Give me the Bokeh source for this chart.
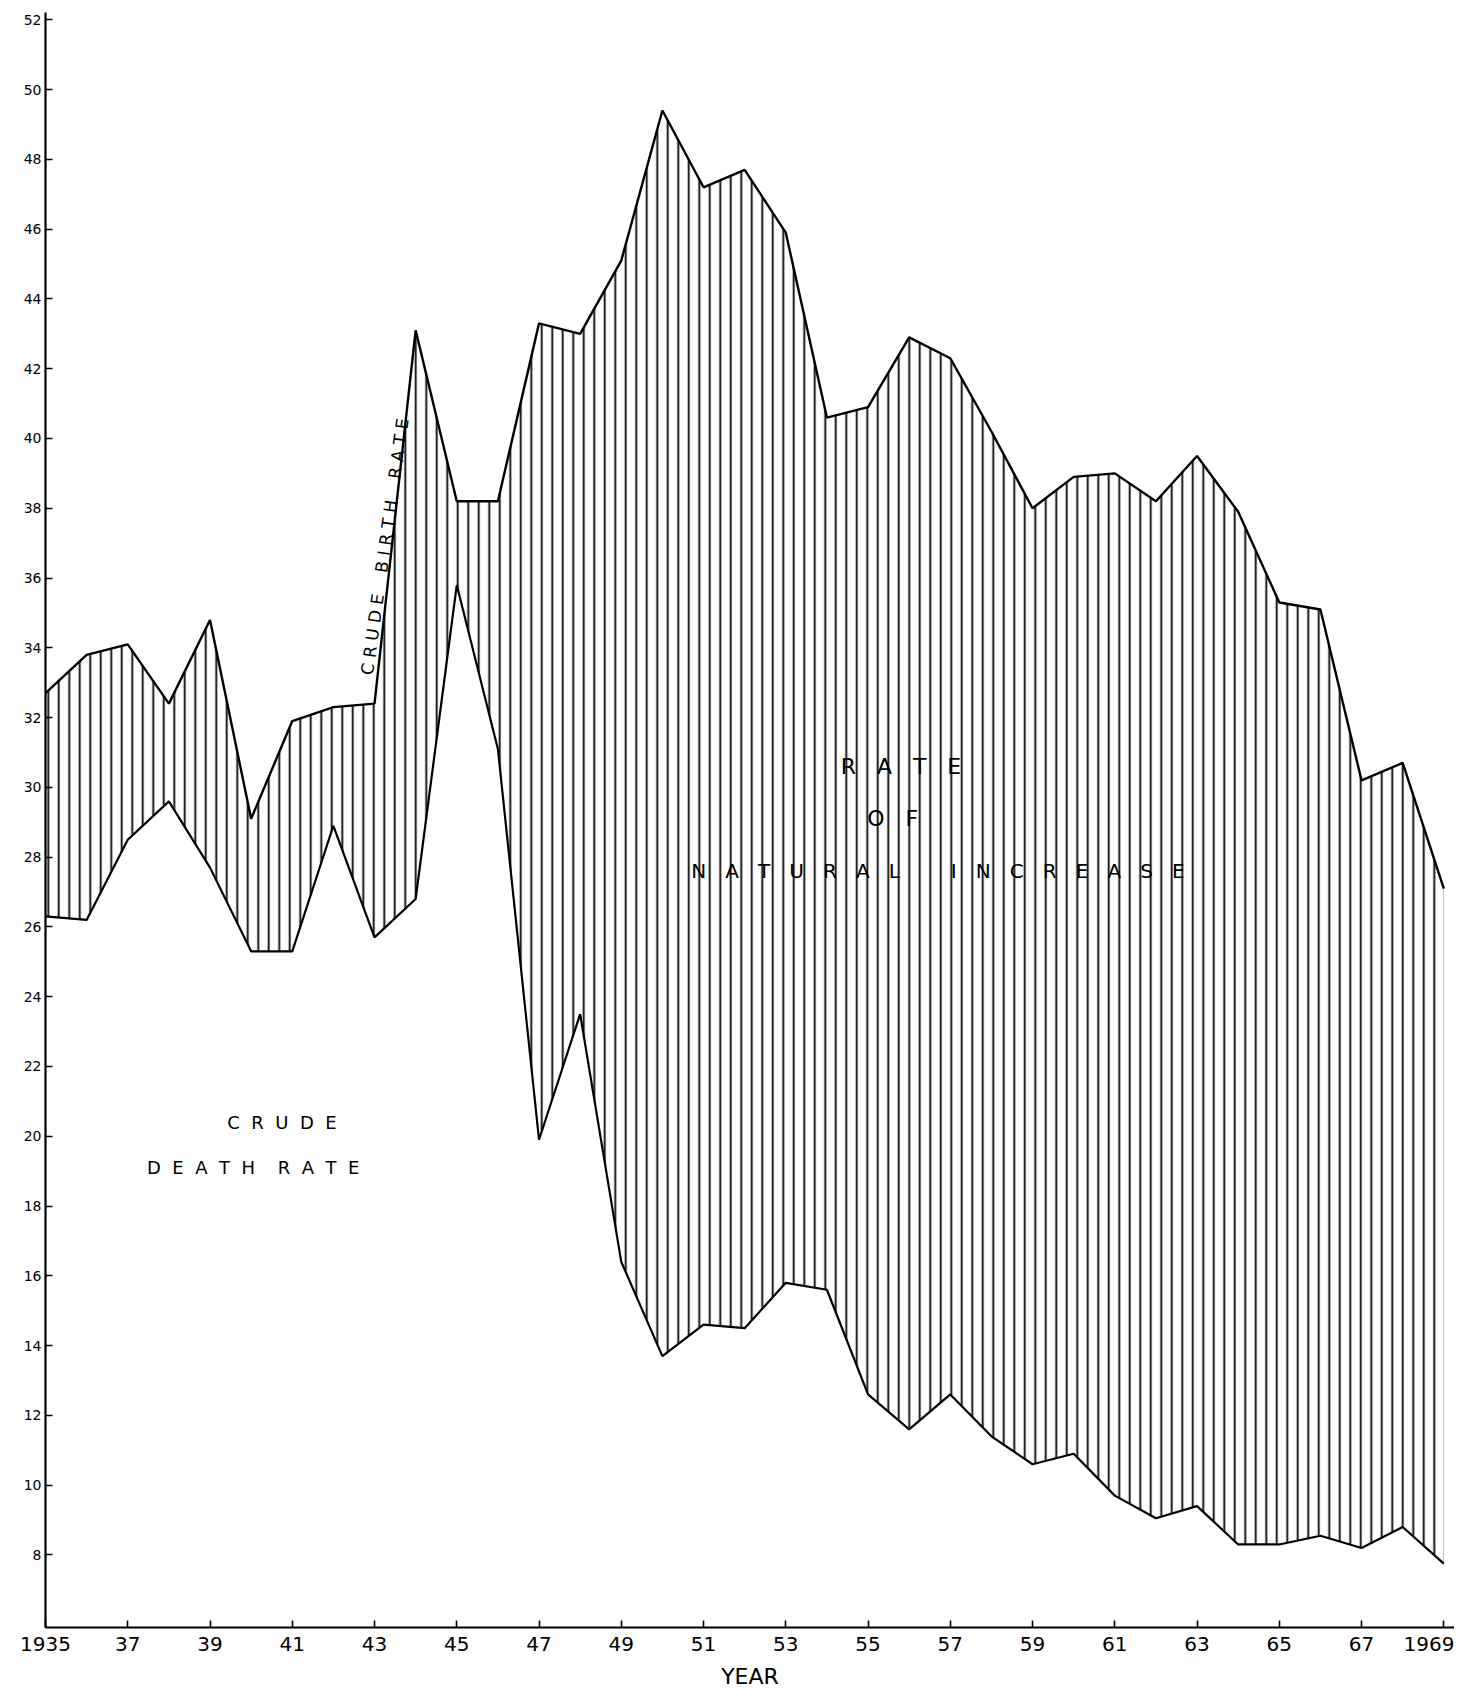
from bokeh.plotting import figure
from bokeh.models import Range1d, FixedTicker, Label
from bokeh.embed import file_html
from bokeh.resources import INLINE

years = list(range(1935, 1970))
birth_rate = [32.7, 33.8, 34.1, 32.4, 34.8, 29.1, 31.9, 32.3, 32.4, 43.1,
              38.2, 38.2, 43.3, 43.0, 45.1, 49.4, 47.2, 47.7, 45.9, 40.6,
              40.9, 42.9, 42.3, 40.2, 38.0, 38.9, 39.0, 38.2, 39.5, 37.9,
              35.3, 35.1, 30.2, 30.7, 27.1]
death_rate = [26.3, 26.2, 28.5, 29.6, 27.7, 25.3, 25.3, 28.9, 25.7, 26.8,
              35.8, 31.1, 19.9, 23.5, 16.4, 13.7, 14.6, 14.5, 15.8, 15.6,
              12.6, 11.6, 12.6, 11.4, 10.6, 10.9, 9.7, 9.05, 9.4, 8.3,
              8.3, 8.55, 8.2, 8.8, 7.75]
x_ticks = list(range(1935, 1970, 2))
x_tick_labels = ["1935", "37", "39", "41", "43", "45", "47", "49", "51", "53",
                 "55", "57", "59", "61", "63", "65", "67", "1969"]
y_ticks = list(range(8, 53, 2))

FONT = "DejaVu Sans"
NB = "\u00a0"

def spaced(word, n):
    return (NB * n).join(list(word))

p = figure(width=1454, height=1698, output_backend="svg", toolbar_location=None,
           x_range=Range1d(1935, 1969.26), y_range=Range1d(5.92, 52.21),
           min_border_left=45, min_border_right=0, min_border_top=12, min_border_bottom=71)
p.background_fill_color = "white"
p.border_fill_color = "white"
p.outline_line_color = None
p.grid.visible = False

p.varea(x=years, y1=death_rate, y2=birth_rate, fill_color=None,
        hatch_pattern="|", hatch_scale=10.5, hatch_weight=1.8, hatch_color="black")
p.line(years, birth_rate, line_width=2.4, line_color="black")
p.line(years, death_rate, line_width=2.2, line_color="black")

p.xaxis.ticker = FixedTicker(ticks=x_ticks)
p.xaxis.major_label_overrides = {t: l for t, l in zip(x_ticks, x_tick_labels)}
p.yaxis.ticker = FixedTicker(ticks=y_ticks)
for ax in (p.xaxis, p.yaxis):
    ax.axis_line_width = 2.2
    ax.axis_line_color = "black"
    ax.major_tick_in = 7
    ax.major_tick_out = 0
    ax.major_tick_line_width = 1.6
    ax.minor_tick_line_color = None
    ax.major_label_text_font = FONT
    ax.major_label_text_color = "black"
p.xaxis.major_label_text_font_size = "20px"
p.yaxis.major_label_text_font_size = "14px"
p.yaxis.major_label_standoff = 4
p.xaxis.major_label_standoff = 9
p.xaxis.axis_label = "YEAR"
p.xaxis.axis_label_text_font = FONT
p.xaxis.axis_label_text_font_size = "22px"
p.xaxis.axis_label_text_font_style = "normal"
p.xaxis.axis_label_text_color = "black"
p.xaxis.axis_label_standoff = 10

def lab(x, y, text, size, angle=0):
    p.add_layout(Label(x=x, y=y, text=text, text_font=FONT, text_font_size=size,
                       text_align="center", text_baseline="middle", angle=angle,
                       angle_units="deg", text_color="black"))

lab(1955.8, 30.6, spaced("RATE", 3), "22px")
lab(1955.6, 29.1, spaced("OF", 3), "22px")
lab(1956.7, 27.6, spaced("NATURAL", 3) + NB * 8 + spaced("INCREASE", 3), "20px")
lab(1940.75, 20.4, spaced("CRUDE", 2), "18px")
lab(1940.05, 19.1, spaced("DEATH", 2) + NB * 4 + spaced("RATE", 2), "18px")
lab(1943.25, 36.9, spaced("CRUDE", 1) + NB * 4 + spaced("BIRTH", 1) + NB * 4 + spaced("RATE", 1),
    "17px", angle=82)

open("out.html", "w").write(file_html(p, INLINE))
